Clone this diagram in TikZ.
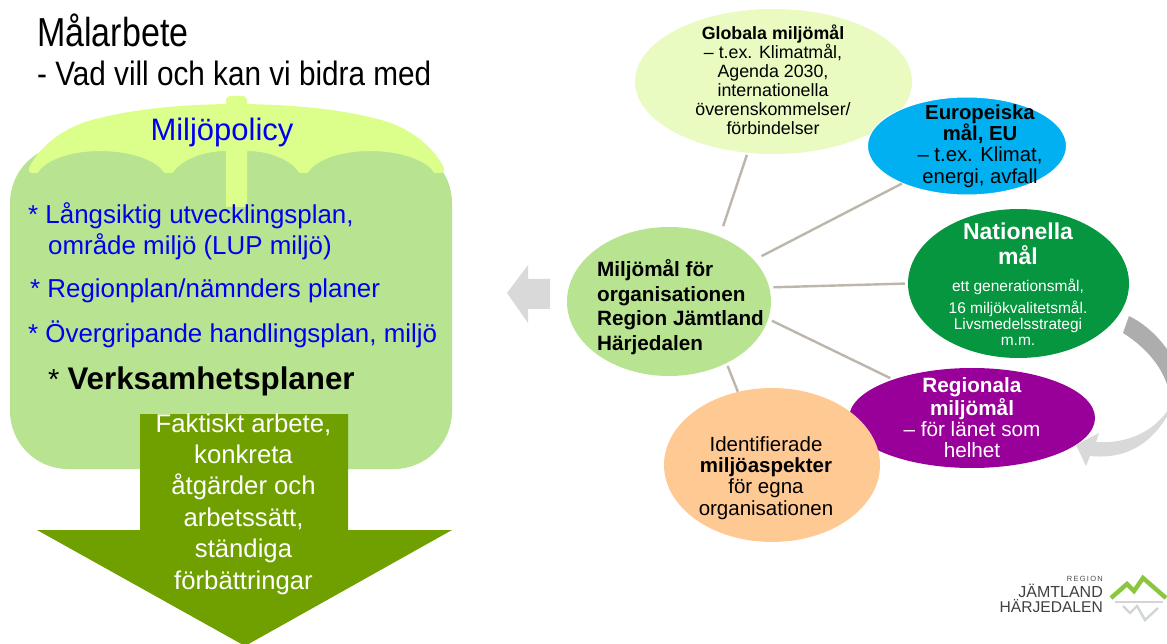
\documentclass[tikz,border=0pt]{standalone}
\usepackage{fontspec}
\setmainfont{Liberation Sans}
\usetikzlibrary{shapes.geometric}
\definecolor{leaf}{HTML}{B8E491}
\definecolor{umbr}{HTML}{DCFF8C}
\definecolor{pale}{HTML}{E9FBC1}
\definecolor{sky}{HTML}{00B0F0}
\definecolor{forest}{HTML}{06963F}
\definecolor{plum}{HTML}{990099}
\definecolor{peach}{HTML}{FFC994}
\definecolor{taupe}{HTML}{BDB7AB}
\definecolor{olivegreen}{HTML}{70A000}
\definecolor{lgray}{HTML}{D9D9D9}
\definecolor{mgray}{HTML}{ADADAD}
\definecolor{polblue}{HTML}{0000F0}
\definecolor{logogreen}{HTML}{8CC63F}
\definecolor{logogray}{HTML}{D0D5D8}
\tikzset{
  blob/.style={ellipse,draw=none,inner sep=0pt},
  link/.style={draw=taupe,line width=2.4pt},
  title/.style={anchor=base west,inner sep=0pt,text=black},
  pol/.style={anchor=base west,inner sep=0pt,text=polblue,font=\fontsize{25.9}{30}\selectfont},
  inner/.style={align=center,inner sep=0pt},
}
\begin{document}
\begin{tikzpicture}[x=1pt,y=-1pt]
\useasboundingbox (0,0) rectangle (1167,644);
\fill[white] (0,0) rectangle (1167,644);
% left panel
\fill[leaf,rounded corners=58pt] (10,145) rectangle (452,469);
% umbrella
\fill[umbr,rounded corners=4pt] (226,112) -- (226,96) -- (247,96) -- (247,112) -- cycle;
\fill[umbr] (29,168) .. controls (42,142) and (70,124) .. (100,118)
   .. controls (135,109) and (185,104) .. (236,104)
   .. controls (288,104) and (338,109) .. (373,118)
   .. controls (403,124) and (431,142) .. (444,168)
   .. controls (444,172) and (444,173) .. (441,173) -- (436,173)
   .. controls (433,173) and (433,172) .. (433,171)
   .. controls (425,160) and (400,151) .. (370,151)
   .. controls (340,151) and (317,160) .. (309,171)
   .. controls (309,172) and (308,173) .. (306,173) -- (301,173)
   .. controls (299,173) and (298,172) .. (298,171)
   .. controls (290,160) and (270,151) .. (247,151)
   -- (247,207) -- (226,207) -- (226,151)
   .. controls (203,151) and (182,160) .. (174,171)
   .. controls (174,172) and (173,173) .. (171,173) -- (166,173)
   .. controls (164,173) and (163,172) .. (163,171)
   .. controls (155,160) and (130,151) .. (100,151)
   .. controls (70,151) and (47,160) .. (39,171)
   .. controls (39,172) and (38,173) .. (36,173) -- (32,173)
   .. controls (29,173) and (29,172) .. (29,168) -- cycle;
\node[pol,anchor=center,font=\fontsize{31}{36}\selectfont] (mp) at (222,132) {Miljöpolicy};
\node[title,font=\fontsize{34}{40}\selectfont] (t1) at (37,46.5) {\scalebox{1}[1.19]{Målarbete}};
\node[title,font=\fontsize{29.7}{35}\selectfont] (t2) at (37,86) {\scalebox{1}[1.14]{- Vad vill och kan vi bidra med}};
\node[pol] (p1) at (28,224) {* Långsiktig utvecklingsplan,};
\node[pol] (p1b) at (48,255) {område miljö (LUP miljö)};
\node[pol] (p2) at (30,298) {* Regionplan/nämnders planer};
\node[pol] (p3) at (28,342) {* Övergripande handlingsplan, miljö};
\node[title,font=\fontsize{29}{34}\selectfont] (p4) at (48,389) {* {\fontsize{31.3}{34}\selectfont\textbf{Verksamhetsplaner}}};
% down arrow
\fill[olivegreen] (140,414) -- (348,414) -- (348,530) -- (452,530) -- (245,646) -- (37,530) -- (140,530) -- cycle;
\node[inner,text=white,font=\fontsize{25.7}{31.4}\selectfont] (act) at (243.5,504) {Faktiskt arbete,\\konkreta\\åtgärder och\\arbetssätt,\\ständiga\\förbättringar};
% grey arrow
\fill[lgray] (507,293) -- (528,265) -- (528,279) -- (550,279) -- (550,309) -- (528,309) -- (528,323) -- cycle;
% ellipses
\node[blob,fill=pale,minimum width=277pt,minimum height=145pt] (g) at (773.5,81.5) {};
\node[blob,fill=sky,draw=white,line width=1pt,minimum width=199pt,minimum height=98pt] (e) at (967,146) {};
\node[blob,fill=forest,minimum width=221pt,minimum height=149pt] (n) at (1018.5,283.5) {};
\node[blob,fill=plum,minimum width=246pt,minimum height=100pt] (r) at (972,418) {};
\node[blob,fill=peach,minimum width=216pt,minimum height=154pt] (i) at (772,465) {};
\node[blob,fill=leaf,minimum width=204pt,minimum height=149pt] (c) at (669,301.5) {};
% connectors
\draw[link,shorten <=11pt,shorten >=2pt] (c.52.7) -- (g.250);
\draw[link,shorten <=8.5pt] (c.26.2) -- (e.210);
\draw[link,shorten <=4pt,shorten >=3pt] (c.8.1) -- (n.180);
\draw[link,shorten <=4pt,shorten >=3pt] (c.-10) -- (r.154);
\draw[link,shorten <=3pt] (c.-47) -- (i.115);
% ellipse texts
\node[inner,font=\fontsize{17.8}{19}\selectfont] (gt) at (773,80) {\textbf{Globala miljömål}\\– t.ex. Klimatmål,\\Agenda 2030,\\internationella\\överenskommelser/\\förbindelser};
\node[inner,font=\fontsize{20.3}{21.3}\selectfont] (et) at (980,146) {\textbf{Europeiska}\\\textbf{mål, EU}\\– t.ex. Klimat,\\energi, avfall};
\node[inner,text=white,font=\fontsize{23}{25}\selectfont\bfseries] (nt1) at (1018,244) {Nationella\\mål};
\node[inner,text=white,font=\fontsize{15.5}{15.7}\selectfont] (nt2) at (1018,312) {ett generationsmål,\\[6pt]16 miljökvalitetsmål.\\Livsmedelsstrategi\\m.m.};
\node[inner,text=white,font=\fontsize{20.7}{21.3}\selectfont] (rt) at (972,418) {\textbf{Regionala}\\\textbf{miljömål}\\– för länet som\\helhet};
\node[inner,font=\fontsize{20.5}{21.3}\selectfont] (it) at (766,478) {Identifierade\\\textbf{miljöaspekter}\\för egna\\organisationen};
\node[inner,align=left,font=\fontsize{20.7}{24.7}\selectfont\bfseries] (ct) at (680.5,307) {Miljömål för\\organisationen\\Region Jämtland\\Härjedalen};
% curved arrow
\begin{scope}
\clip (0,0) rectangle (1167,644);
\fill[mgray] (1129,316) .. controls (1145,324) and (1158,336) .. (1169,352)
  -- (1169,392) .. controls (1165,372) and (1150,350) .. (1123,333) -- cycle;
\fill[lgray] (1076,445) -- (1099,433) -- (1096,442)
  .. controls (1127,444) and (1153,432) .. (1168,410)
  -- (1168,415) .. controls (1153,440) and (1130,460) .. (1090,456)
  -- (1086,466) -- cycle;
\end{scope}
% logo
\node[inner,anchor=base east,text=black!70,font=\fontsize{7.5}{9}\selectfont] (l1) at (1103,581) {R\,E\,G\,I\,O\,N};
\node[inner,anchor=base east,text=black!75,font=\fontsize{16}{18}\selectfont] (l2) at (1103,597) {JÄMTLAND};
\node[inner,anchor=base east,text=black!75,font=\fontsize{15.6}{18}\selectfont] (l3) at (1103,612) {HÄRJEDALEN};
\draw[logogreen,line width=4.4pt,line join=miter] (1111,598) -- (1127,584) -- (1134,591) -- (1143,578) -- (1166,598);
\draw[logogray,line width=2.2pt] (1115,602) -- (1163,602);
\draw[logogray,line width=2.4pt] (1123,606) -- (1130,613) -- (1137,606) -- (1145,620) -- (1158,608);
\end{tikzpicture}
\end{document}
